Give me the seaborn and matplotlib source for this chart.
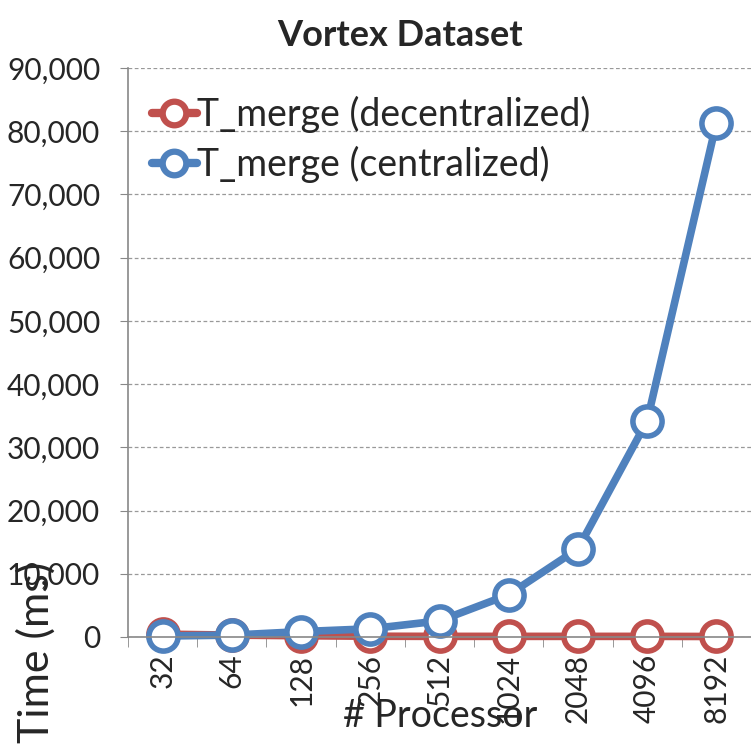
import pandas as pd
import seaborn as sns
import matplotlib.pyplot as plt

processors = ['32', '64', '128', '256', '512', '1024', '2048', '4096', '8192']
decentralized = [450, 300, 200, 120, 100, 100, 100, 100, 80]
centralized = [150, 300, 850, 1300, 2550, 6700, 13950, 34200, 81300]
series_names = ['T_merge (decentralized)', 'T_merge (centralized)']
colors = ['#C0504D', '#4F81BD']

df = pd.DataFrame({
    'proc': processors * 2,
    'time': decentralized + centralized,
    'series': [series_names[0]] * len(processors) + [series_names[1]] * len(processors),
})
df['pos'] = list(range(len(processors))) * 2

sns.set_style('white')
plt.rcParams['font.family'] = ['Lato', 'DejaVu Sans']

fig = plt.figure(figsize=(7.51, 7.51), dpi=100)
ax = fig.add_axes([128 / 751, 114 / 751, 1 - 128 / 751, (637 - 68) / 751])

sns.lineplot(data=df, x='pos', y='time', hue='series', palette=colors,
             marker='o', markersize=21, markerfacecolor='white',
             markeredgewidth=4, linewidth=5.5, legend=False, ax=ax)
for line in ax.lines:
    line.set_markeredgecolor(line.get_color())
    line.set_clip_on(False)

ax.set_xlim(-0.5, len(processors) - 0.5)
ax.set_ylim(0, 90000)
ax.set_yticks(range(0, 90001, 10000))
ax.set_yticklabels([f'{v:,}' for v in range(0, 90001, 10000)], fontsize=21.5)
ax.set_xticks(range(len(processors)))
ax.set_xticklabels(processors, rotation=90, fontsize=21.5)
ax.set_xticks([i - 0.5 for i in range(len(processors) + 1)], minor=True)
ax.tick_params(axis='x', which='major', length=0, pad=12)
ax.tick_params(axis='x', which='minor', length=7, color='#888888', direction='out', bottom=True)
ax.tick_params(axis='y', length=6, color='#888888', direction='out', left=True, pad=14)

ax.yaxis.grid(True, linestyle=(0, (3, 2)), color='#999999', linewidth=0.9)
for s in ['top', 'right']:
    ax.spines[s].set_visible(False)
for s in ['left', 'bottom']:
    ax.spines[s].set_color('#888888')
    ax.spines[s].set_linewidth(1.2)

ax.set_xlabel('')
ax.set_ylabel('')
fig.text(440 / 751, 1 - 716 / 751, '# Processor', ha='center', va='center', fontsize=27)
fig.text(36 / 751, 1 - 652 / 751, 'Time (ms)', ha='center', va='center', rotation=90, fontsize=31)
fig.text(400 / 751, 1 - 35 / 751, 'Vortex Dataset', ha='center', va='center',
         fontsize=26, fontweight='bold')

handles = [plt.Line2D([], [], color=c, marker='o', markersize=17, markerfacecolor='white',
                      markeredgecolor=c, markeredgewidth=4.5, linewidth=6) for c in colors]
ax.legend(handles, series_names, loc='upper left', bbox_to_anchor=(-0.004, 0.997), frameon=False,
          fontsize=27, handlelength=1.2, handletextpad=0.0, labelspacing=0.35, borderaxespad=0.3)

fig.savefig('out.png', dpi=100)
